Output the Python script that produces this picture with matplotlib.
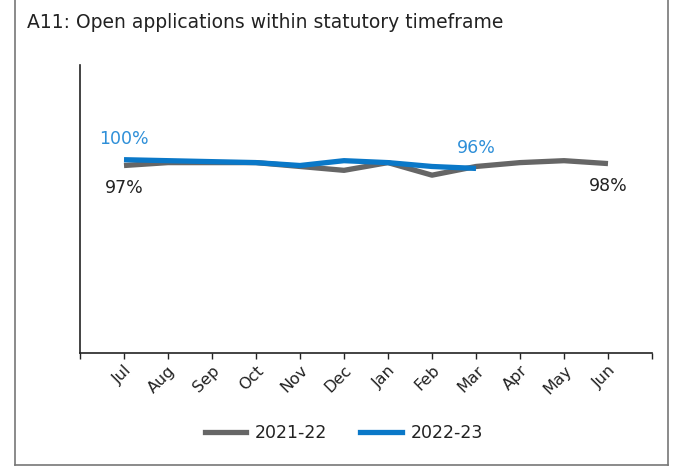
import matplotlib
matplotlib.use("Agg")
import matplotlib.pyplot as plt
from matplotlib.lines import Line2D

months = ["Jul", "Aug", "Sep", "Oct", "Nov", "Dec", "Jan", "Feb", "Mar", "Apr", "May", "Jun"]
s2122 = [0.97, 0.985, 0.985, 0.985, 0.965, 0.945, 0.985, 0.92, 0.965, 0.985, 0.995, 0.98]
s2223 = [1.00, 0.995, 0.99, 0.985, 0.97, 0.995, 0.985, 0.965, 0.955]
label_2122 = "2021-22"
label_2223 = "2022-23"
title = "A11: Open applications within statutory timeframe"

plt.rcParams['font.family'] = ['DejaVu Sans']

W, H = 683, 473
fig = plt.figure(figsize=(W / 100, H / 100), dpi=100)
ax = fig.add_axes([80 / W, 1 - 353 / H, (652 - 80) / W, (353 - 65) / H])

gray = "#666666"
blue = "#0A78C8"
x1 = list(range(len(s2122)))
x2 = list(range(len(s2223)))
ax.plot(x1, s2122, color=gray, lw=3.8, solid_capstyle="butt", solid_joinstyle="round", zorder=2)
ax.plot(x2, s2223, color=blue, lw=3.8, solid_capstyle="butt", solid_joinstyle="round", zorder=3)

ax.set_xlim(-0.98, 11.98)
ax.set_ylim(0, 1.49)
ax.set_xticks(range(-1, 13))
ax.set_xticklabels([""] + months + [""], rotation=45, ha="right", rotation_mode="anchor",
                   fontsize=11.5, color="#222222")
ax.tick_params(axis="x", length=4, width=1, color="#222222", pad=3)
ax.set_yticks([])
for s in ["top", "right"]:
    ax.spines[s].set_visible(False)
for s in ["left", "bottom"]:
    ax.spines[s].set_color("#222222")
    ax.spines[s].set_linewidth(1.2)

# data labels
lbl_blue = "#2E8FD8"
ax.annotate(f"{s2223[0]:.0%}", (x2[0], s2223[0]), xytext=(0, 15), textcoords="offset points",
            ha="center", va="center", color=lbl_blue, fontsize=12.5)
ax.annotate(f"{s2122[0]:.0%}", (x1[0], s2122[0]), xytext=(0, -16), textcoords="offset points",
            ha="center", va="center", color="#222222", fontsize=12.5)
ax.annotate(f"{s2223[-1]:.0%}", (x2[-1], s2223[-1]), xytext=(0, 15), textcoords="offset points",
            ha="center", va="center", color=lbl_blue, fontsize=12.5)
ax.annotate(f"{s2122[-1]:.0%}", (x1[-1], s2122[-1]), xytext=(0, -16), textcoords="offset points",
            ha="center", va="center", color="#222222", fontsize=12.5)

handles = [Line2D([0], [0], color=gray, lw=3.8), Line2D([0], [0], color=blue, lw=3.8)]
fig.legend(handles, [label_2122, label_2223], loc="center", bbox_to_anchor=(344 / W, 1 - 433 / H),
           ncol=2, frameon=False, fontsize=12.5, handlelength=2.4, columnspacing=1.9,
           handletextpad=0.5, labelcolor="#222222")

fig.text(27 / W, 1 - 22 / H, title, ha="left", va="center", fontsize=13.5, color="#222222")

# border
bc = "#777777"
fig.add_artist(Line2D([15 / W, 15 / W], [1 - 465 / H, 1.0], transform=fig.transFigure, color=bc, lw=1.2))
fig.add_artist(Line2D([15 / W, 668 / W], [1 - 465 / H, 1 - 465 / H], transform=fig.transFigure, color=bc, lw=1.2))
fig.add_artist(Line2D([668 / W, 668 / W], [1 - 465 / H, 1.0], transform=fig.transFigure, color=bc, lw=1.2))

fig.savefig("out.png", dpi=100)
